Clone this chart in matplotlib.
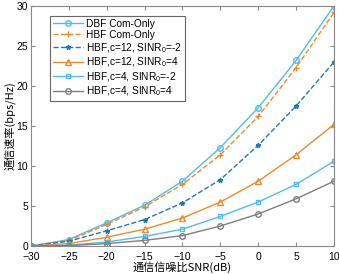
import matplotlib
matplotlib.use("Agg")
import matplotlib.pyplot as plt

plt.rcParams['font.family'] = ['Liberation Sans', 'Noto Sans CJK SC', 'DejaVu Sans']
plt.rcParams['mathtext.fontset'] = 'custom'
plt.rcParams['mathtext.rm'] = 'Liberation Sans'

snr = [-30, -25, -20, -15, -10, -5, 0, 5, 10]
dbf_com = [0, 0.8, 2.9, 5.1, 8.1, 12.3, 17.3, 23.2, 30.0]
hbf_com = [0, 0.7, 2.7, 4.9, 7.7, 11.4, 16.2, 22.3, 29.2]
hbf_c12_m2 = [0, 0.6, 1.9, 3.3, 5.4, 8.3, 12.6, 17.5, 23.0]
hbf_c12_4 = [0, 0.3, 1.1, 2.1, 3.5, 5.5, 8.1, 11.4, 15.2]
hbf_c4_m2 = [0, 0.1, 0.5, 1.2, 2.1, 3.7, 5.5, 7.7, 10.6]
hbf_c4_4 = [0, 0.05, 0.3, 0.7, 1.3, 2.5, 4.0, 5.9, 8.1]

labels = ['DBF Com-Only', 'HBF Com-Only', 'HBF,c=12, SINR$_0$=-2',
          'HBF,c=12, SINR$_0$=4', 'HBF,c=4, SINR$_0$=-2', 'HBF,c=4, SINR$_0$=4']

lblue = '#4DBEEE'
orange = '#EF8A2A'
dblue = '#1F77C4'
gray = '#7F7F7F'

fig = plt.figure(figsize=(3.39, 2.74), dpi=100)
ax = fig.add_axes([31 / 339, 1 - 246 / 274, 303 / 339, 240 / 274])

ax.plot(snr, dbf_com, '-o', color=lblue, mfc='none', ms=4, lw=1, label=labels[0])
ax.plot(snr, hbf_com, '--+', color=orange, ms=5, lw=1, label=labels[1])
ax.plot(snr, hbf_c12_m2, '--*', color=dblue, ms=3.5, lw=1, label=labels[2])
ax.plot(snr, hbf_c12_4, '-^', color=orange, mfc='none', ms=4, lw=1, label=labels[3])
ax.plot(snr, hbf_c4_m2, '-s', color=lblue, mfc='none', ms=3.5, lw=1, label=labels[4])
ax.plot(snr, hbf_c4_4, '-o', color=gray, mfc='none', ms=4, lw=1, label=labels[5])

ax.set_xlim(-30, 10)
ax.set_ylim(0, 30)
ax.set_xticks(range(-30, 11, 5))
ax.set_yticks(range(0, 31, 5))
ax.tick_params(direction='in', top=True, right=True, labelsize=7.5, length=3,
               color='#888888', pad=2)
ax.tick_params(axis='x', pad=4)
for s in ax.spines.values():
    s.set_color('#888888')
    s.set_linewidth(0.8)

ax.set_xlabel('通信信噪比SNR(dB)', fontsize=8, labelpad=0,
              family=['Noto Sans CJK SC', 'DejaVu Sans'])
ax.set_ylabel('通信速率(bps/Hz)', fontsize=8, labelpad=1,
              family=['Noto Sans CJK SC', 'DejaVu Sans'])

leg = ax.legend(loc='upper left', fontsize=7.3, frameon=True, fancybox=False,
                edgecolor='#444444', handlelength=3.0, handletextpad=0.3,
                labelspacing=0.1, borderpad=0.3, bbox_to_anchor=(0.045, 0.98))
leg.get_frame().set_linewidth(0.8)

fig.savefig('out.png', dpi=100)
